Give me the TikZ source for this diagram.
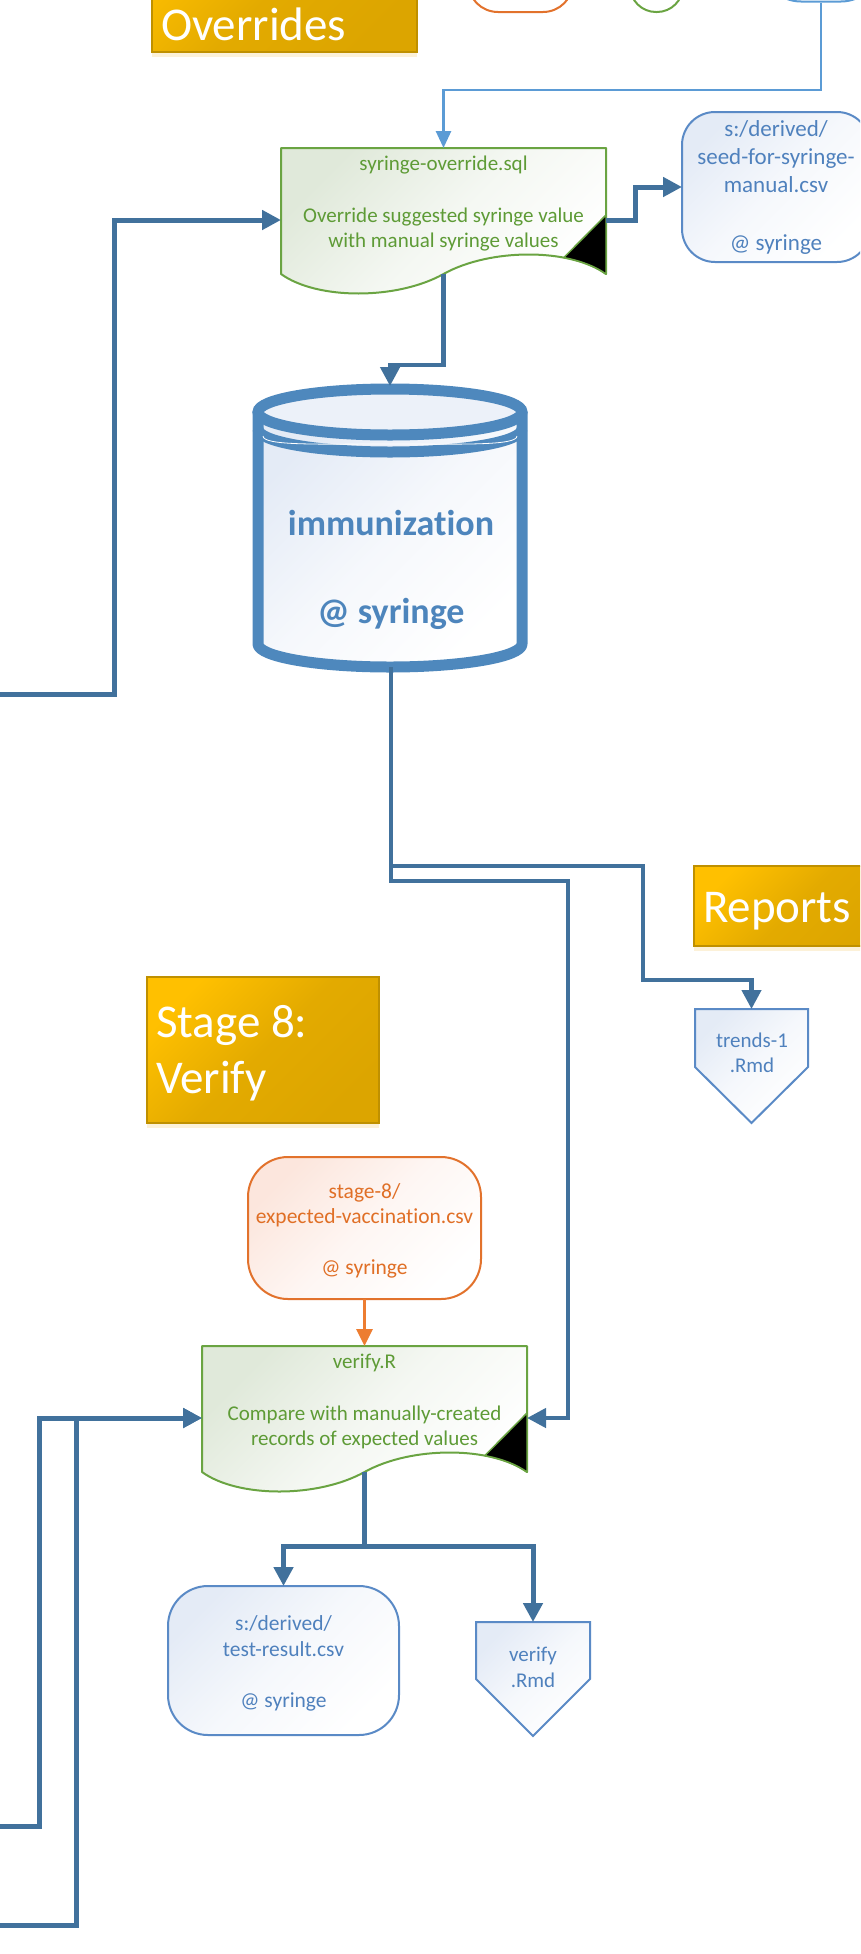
\documentclass[tikz,border=0pt]{standalone}
\usepackage{fontspec}
\setmainfont{Carlito}[Ligatures=NoCommon]
\usetikzlibrary{arrows.meta,shadows}
\definecolor{dkblue}{HTML}{41719C}
\definecolor{ltblue}{HTML}{5B9BD5}
\definecolor{cylblue}{HTML}{4E88BD}
\definecolor{cyltext}{HTML}{4D85BC}
\definecolor{dsblue}{HTML}{4F81BD}
\definecolor{dsline}{HTML}{5A8AC6}
\definecolor{dsfill}{HTML}{E4EBF6}
\definecolor{prgreen}{HTML}{6AA442}
\definecolor{prtext}{HTML}{5E9B36}
\definecolor{prfill}{HTML}{E0E9DA}
\definecolor{orline}{HTML}{E2722C}
\definecolor{ortext}{HTML}{E06F26}
\definecolor{orfill}{HTML}{FCE6DD}
\definecolor{orarrow}{HTML}{ED7D31}
\definecolor{goldtop}{HTML}{FFC000}
\definecolor{goldbot}{HTML}{DCA500}
\definecolor{goldline}{HTML}{BF9000}
\definecolor{goldshadow}{HTML}{FBEBC8}
\newcommand\fsz[1]{\fontsize{#1pt}{#1pt}\selectfont}
% document (process) shape in local coordinates, top-left at (0,0)
\newcommand\docshape{%
  \filldraw[draw=prgreen, line width=2pt, line join=round, top color=prfill, bottom color=white, middle color=prfill!35!white, shading angle=45]
    (0,0) -- (325,0) -- (325,126) .. controls (289,100) and (209,100) .. (162.5,126)
    .. controls (116,152) and (36,152) .. (0,126) -- cycle;
  \filldraw[fill=black, draw=prgreen, line width=1.5pt, line join=round]
    (325,67) -- (282.8,109.6) .. controls (299.4,112.7) and (314.2,118.2) .. (325,126) -- cycle;
}
\begin{document}
\begin{tikzpicture}[x=1pt,y=-1pt,
  anchorbox/.style={inner sep=0pt, outer sep=0pt, draw=none},
  softfill/.style={top color=#1, bottom color=white, middle color=#1!35!white, shading angle=45},
  dsbox/.style={draw=dsline, line width=2pt, softfill=dsfill, inner sep=0pt, outer sep=0pt},
  orbox/.style={draw=orline, line width=2pt, softfill=orfill, inner sep=0pt, outer sep=0pt},
  stagebox/.style={draw=goldline, line width=2pt, top color=goldtop, bottom color=goldbot, middle color=goldbot!80!goldtop, shading angle=45, inner sep=0pt, outer sep=0pt,
     drop shadow={shadow xshift=0pt, shadow yshift=-5pt, fill=goldshadow, opacity=0.7}},
  txt/.style={anchor=base, inner sep=0pt, outer sep=0pt},
  prt/.style={txt, text=prtext, font=\fsz{21}},
  dst/.style={txt, text=dsblue, font=\fsz{21.5}},
  dsbig/.style={txt, text=dsblue, font=\fsz{23}},
  ort/.style={txt, text=ortext, font=\fsz{21.5}},
  cylt/.style={txt, text=cyltext, font=\fsz{36}\bfseries},
  stagetxt/.style={anchor=base west, inner sep=0pt, outer sep=0pt, text=white, font=\fsz{47}},
  conn/.style={draw=dkblue, line width=5pt, line join=miter, -{Triangle[length=19pt,width=19pt]}},
  connthin/.style={conn, line width=4.3pt},
  plainconn/.style={draw=dkblue, line width=5pt, line join=miter},
  ltconn/.style={draw=ltblue, line width=2.7pt, line join=miter, -{Triangle[length=17pt,width=15pt]}},
  orconn/.style={draw=orarrow, line width=2.7pt, -{Triangle[length=17pt,width=16pt]}}
]
\useasboundingbox (0,0) rectangle (860,1954);
\clip (0,0) rectangle (860,1954);

% ---------- partial shapes at the top edge ----------
\node[draw=orline, line width=2pt, rounded corners=30pt, minimum width=105pt, minimum height=162pt, inner sep=0pt] (topor) at (520.5,-69) {};
\node[draw=prgreen, line width=2pt, rounded corners=26pt, minimum width=53pt, minimum height=162pt, inner sep=0pt] (topgr) at (656.5,-69) {};
\node[draw=ltblue, line width=2pt, rounded corners=40pt, minimum width=120pt, minimum height=152pt, inner sep=0pt] (topbl) at (821,-74.5) {};

% ---------- stage labels ----------
\node[stagebox, minimum width=265pt, minimum height=146pt] (stage7) at (284.5,-21) {};
\node[stagetxt] (stage7t) at (161,40) {Overrides};
\node[stagebox, minimum width=232pt, minimum height=146pt] (stage8) at (263,1050) {};
\node[stagetxt] (stage8a) at (156,1037) {Stage 8:};
\node[stagetxt] (stage8b) at (156,1093) {Verify};
\node[stagebox, minimum width=206pt, minimum height=80pt] (reports) at (797,906) {};
\node[stagetxt] (reportst) at (703,922) {Reports};

% ---------- syringe-override.sql ----------
\node[anchorbox, minimum width=325pt, minimum height=126pt] (ovr) at (443.5,211) {};
\begin{scope}[shift={(ovr.north west)}]
  \docshape
\end{scope}
\node[prt] (ovr1) at (443.5,170) {syringe-override.sql};
\node[prt] (ovr2) at (443.5,222) {Override suggested syringe value};
\node[prt] (ovr3) at (443.5,247) {with manual syringe values};
\coordinate (ovrW) at (281,220);
\coordinate (ovrE) at (606,220);
\coordinate (ovrS) at (443.5,274);

% ---------- seed-for-syringe-manual.csv ----------
\node[dsbox, rounded corners=33pt, minimum width=188pt, minimum height=150pt] (seed) at (776,187) {};
\node[dsbig] (seed1) at (776,136.5) {s:/derived/};
\node[dsbig] (seed2) at (776,164.5) {seed-for-syringe-};
\node[dsbig] (seed3) at (776,192.5) {manual.csv};
\node[dsbig] (seed4) at (776,250.5) {@ syringe};

% ---------- immunization cylinder ----------
\node[anchorbox, minimum width=275pt, minimum height=290pt] (db) at (390,528) {};
\fill[softfill=dsfill]
  (258,412) -- (258,644) .. controls (258,656.7) and (317.1,667) .. (390,667)
  .. controls (462.9,667) and (522,656.7) .. (522,644) -- (522,412) -- cycle;
\draw[cylblue, line width=11pt, line join=round]
  (258,412) -- (258,644) .. controls (258,656.7) and (317.1,667) .. (390,667)
  .. controls (462.9,667) and (522,656.7) .. (522,644) -- (522,412);
\filldraw[draw=cylblue, fill=dsfill!70!white, line width=11pt] (390,412) ellipse [x radius=132pt, y radius=23pt];
\draw[cylblue, line width=11pt]
  (258,429) .. controls (258,441.7) and (317.1,452) .. (390,452)
  .. controls (462.9,452) and (522,441.7) .. (522,429);
\draw[white, line width=0.8pt]
  (263,436) .. controls (263,446) and (320,444) .. (390,444)
  .. controls (460,444) and (517,446) .. (517,436);
\node[cylt] (db1) at (391,535) {immunization};
\node[cylt] (db2) at (391,623) {@ syringe};
\coordinate (dbN) at (390,386);
\coordinate (dbS) at (391,667);

% ---------- trends-1.Rmd ----------
\node[anchorbox, minimum width=113pt, minimum height=114pt] (trends) at (751.5,1066) {};
\filldraw[draw=dsline, line width=2pt, line join=miter, softfill=dsfill]
  (695,1009) -- (808,1009) -- (808,1067) -- (751.5,1123) -- (695,1067) -- cycle;
\node[dst, font=\fsz{21}] (trends1) at (752,1047) {trends-1};
\node[dst, font=\fsz{21}] (trends2) at (752,1072) {.Rmd};

% ---------- stage-8/expected-vaccination.csv ----------
\node[orbox, rounded corners=40pt, minimum width=233pt, minimum height=142pt] (csv) at (364.5,1228) {};
\node[ort] (csv1) at (364.5,1198) {stage-8/};
\node[ort] (csv2) at (364.5,1223.5) {expected-vaccination.csv};
\node[ort] (csv3) at (364.5,1274.5) {@ syringe};

% ---------- verify.R ----------
\node[anchorbox, minimum width=325pt, minimum height=126pt] (ver) at (364.5,1409) {};
\begin{scope}[shift={(ver.north west)}]
  \docshape
\end{scope}
\node[prt] (ver1) at (364.5,1368) {verify.R};
\node[prt] (ver2) at (364.5,1420) {Compare with manually-created};
\node[prt] (ver3) at (364.5,1445) {records of expected values};
\coordinate (verW) at (202,1418);
\coordinate (verE) at (527,1418);
\coordinate (verS) at (364.5,1472);
\coordinate (split) at (364.5,1546);

% ---------- test-result.csv ----------
\node[dsbox, rounded corners=40pt, minimum width=231pt, minimum height=149pt] (test) at (283.5,1660.5) {};
\node[dst] (test1) at (283.5,1630) {s:/derived/};
\node[dst] (test2) at (283.5,1656) {test-result.csv};
\node[dst] (test3) at (283.5,1707) {@ syringe};

% ---------- verify.Rmd ----------
\node[anchorbox, minimum width=114pt, minimum height=114pt] (vrmd) at (533,1679) {};
\filldraw[draw=dsline, line width=2pt, line join=miter, softfill=dsfill]
  (476,1622) -- (590,1622) -- (590,1679) -- (533,1736) -- (476,1679) -- cycle;
\node[dst, font=\fsz{21}] (vrmd1) at (533,1661) {verify};
\node[dst, font=\fsz{21}] (vrmd2) at (533,1687) {.Rmd};

% ---------- free ends of connectors coming from outside ----------
\coordinate (inOvr) at (0,694);
\coordinate (inV1) at (0,1826);
\coordinate (inV2) at (0,1925);

% ---------- connectors ----------
\draw[ltconn] (topbl.south) -- ++(0,87.5) -| (ovr.north);
\draw[conn] (inOvr) -- ++(114,0) |- (ovrW);
\draw[conn] (ovrE) -- ++(29,0) |- (seed.west);
\draw[connthin] (ovrS) -- ++(0,91) -| (dbN);
\draw[connthin] (dbS) -- ++(0,199) -- ++(252,0) -- ++(0,114) -| (trends.north);
\draw[connthin] (dbS) -- ++(0,214) -- ++(177,0) |- (verE);
\draw[orconn] (csv.south) -- (ver.north);
\draw[plainconn] (verS) -- (split);
\draw[conn] (split) -| (test.north);
\draw[conn] (split) -| (vrmd.north);
\draw[conn] (inV2) -- ++(76,0) |- (verW);
\draw[conn] (inV1) -- ++(39,0) |- (verW);
\end{tikzpicture}
\end{document}
